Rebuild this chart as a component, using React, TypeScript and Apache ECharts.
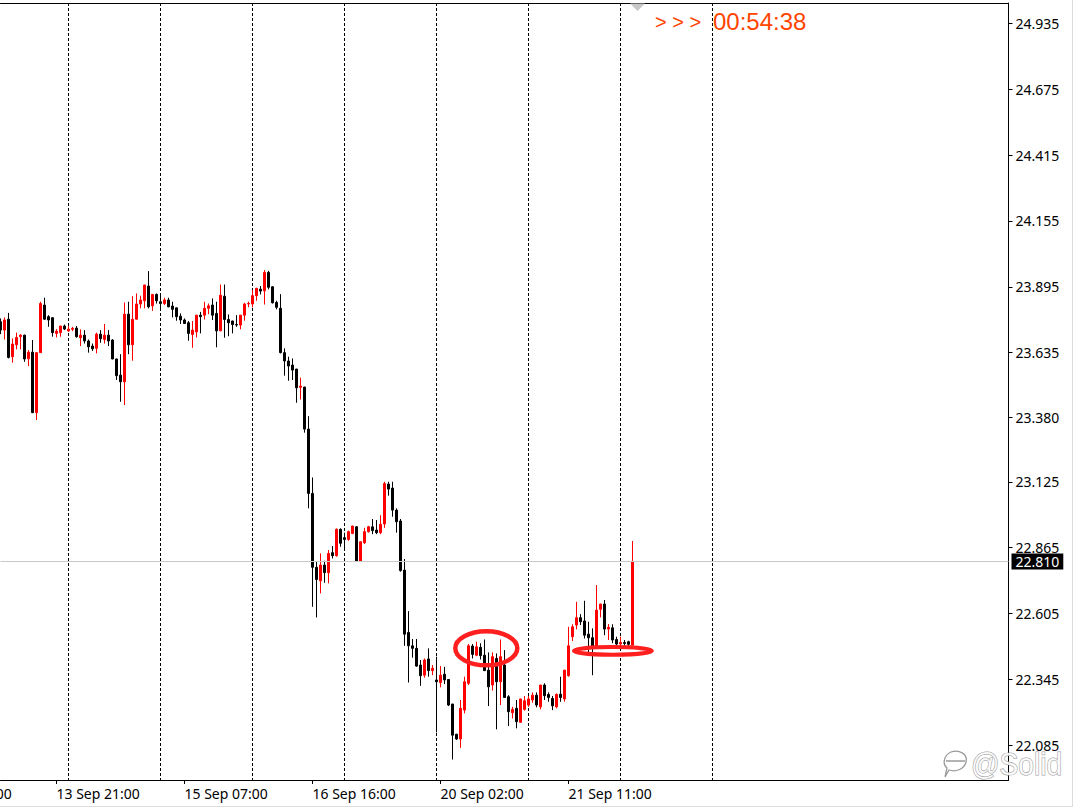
import React, { useEffect, useRef } from 'react';
import * as echarts from 'echarts';

// H1 candles: [open, high, low, close]
const ohlc: [number, number, number, number][] = [
  [23.757, 23.770, 23.708, 23.724], [23.724, 23.774, 23.687, 23.764], [23.767, 23.792, 23.612, 23.616],
  [23.619, 23.691, 23.595, 23.669], [23.666, 23.714, 23.648, 23.695], [23.698, 23.708, 23.648, 23.704],
  [23.704, 23.706, 23.599, 23.610], [23.611, 23.645, 23.582, 23.637], [23.637, 23.685, 23.396, 23.398],
  [23.398, 23.636, 23.369, 23.635], [23.635, 23.836, 23.634, 23.829], [23.823, 23.852, 23.764, 23.767],
  [23.777, 23.783, 23.737, 23.764], [23.773, 23.774, 23.698, 23.714], [23.711, 23.728, 23.695, 23.720],
  [23.714, 23.741, 23.698, 23.740], [23.740, 23.746, 23.724, 23.728], [23.721, 23.740, 23.717, 23.728],
  [23.727, 23.737, 23.720, 23.731], [23.732, 23.740, 23.694, 23.698], [23.694, 23.727, 23.661, 23.704],
  [23.704, 23.724, 23.671, 23.681], [23.681, 23.687, 23.635, 23.658], [23.661, 23.671, 23.642, 23.650],
  [23.652, 23.714, 23.632, 23.708], [23.708, 23.724, 23.674, 23.690], [23.687, 23.748, 23.671, 23.704],
  [23.704, 23.724, 23.661, 23.681], [23.685, 23.688, 23.609, 23.610], [23.610, 23.611, 23.527, 23.544],
  [23.546, 23.629, 23.441, 23.520], [23.520, 23.833, 23.428, 23.787], [23.787, 23.836, 23.629, 23.666],
  [23.666, 23.858, 23.603, 23.767], [23.767, 23.869, 23.766, 23.827], [23.827, 23.860, 23.810, 23.843],
  [23.840, 23.903, 23.810, 23.902], [23.898, 23.957, 23.810, 23.816], [23.820, 23.866, 23.800, 23.865],
  [23.865, 23.869, 23.829, 23.840], [23.836, 23.862, 23.800, 23.829], [23.829, 23.852, 23.823, 23.843],
  [23.843, 23.852, 23.814, 23.816], [23.819, 23.836, 23.774, 23.806], [23.812, 23.813, 23.761, 23.777],
  [23.779, 23.790, 23.748, 23.764], [23.764, 23.770, 23.748, 23.750], [23.753, 23.760, 23.682, 23.711],
  [23.707, 23.760, 23.654, 23.724], [23.717, 23.784, 23.695, 23.783], [23.783, 23.796, 23.711, 23.777],
  [23.783, 23.836, 23.766, 23.810], [23.810, 23.829, 23.787, 23.820], [23.823, 23.849, 23.764, 23.783],
  [23.790, 23.836, 23.656, 23.721], [23.721, 23.904, 23.720, 23.862], [23.858, 23.904, 23.694, 23.766],
  [23.766, 23.786, 23.700, 23.753], [23.760, 23.761, 23.711, 23.746], [23.746, 23.783, 23.737, 23.744],
  [23.744, 23.784, 23.727, 23.783], [23.783, 23.832, 23.761, 23.827], [23.827, 23.836, 23.814, 23.829],
  [23.827, 23.882, 23.814, 23.860], [23.860, 23.891, 23.840, 23.889], [23.886, 23.898, 23.865, 23.878],
  [23.879, 23.961, 23.825, 23.952], [23.952, 23.958, 23.885, 23.893], [23.895, 23.898, 23.829, 23.832],
  [23.833, 23.840, 23.806, 23.814], [23.810, 23.866, 23.632, 23.635], [23.635, 23.652, 23.544, 23.602],
  [23.602, 23.619, 23.524, 23.582], [23.586, 23.612, 23.527, 23.566], [23.570, 23.571, 23.437, 23.496],
  [23.498, 23.536, 23.450, 23.503], [23.499, 23.500, 23.319, 23.333], [23.333, 23.384, 23.020, 23.079],
  [23.079, 23.142, 22.631, 22.787], [22.787, 22.809, 22.589, 22.739], [22.734, 22.842, 22.684, 22.796],
  [22.796, 22.813, 22.726, 22.766], [22.766, 22.855, 22.724, 22.842], [22.845, 22.871, 22.822, 22.833],
  [22.833, 22.941, 22.829, 22.937], [22.937, 22.941, 22.868, 22.882], [22.904, 22.924, 22.855, 22.897],
  [22.897, 22.932, 22.892, 22.928], [22.921, 22.951, 22.918, 22.950], [22.947, 22.950, 22.809, 22.812],
  [22.812, 22.889, 22.811, 22.888], [22.884, 22.943, 22.879, 22.928], [22.928, 22.951, 22.924, 22.947],
  [22.947, 22.978, 22.918, 22.932], [22.934, 22.974, 22.918, 22.924], [22.924, 22.993, 22.918, 22.957],
  [22.958, 23.125, 22.943, 23.118], [23.116, 23.125, 23.070, 23.096], [23.100, 23.125, 22.987, 23.013],
  [23.013, 23.020, 22.924, 22.967], [22.970, 22.978, 22.770, 22.774], [22.776, 22.820, 22.477, 22.523],
  [22.530, 22.614, 22.332, 22.477], [22.477, 22.504, 22.430, 22.467], [22.467, 22.504, 22.394, 22.397],
  [22.401, 22.421, 22.319, 22.359], [22.361, 22.427, 22.351, 22.421], [22.425, 22.467, 22.355, 22.379],
  [22.379, 22.401, 22.361, 22.388], [22.342, 22.434, 22.135, 22.335], [22.332, 22.397, 22.313, 22.361],
  [22.365, 22.394, 22.326, 22.342], [22.344, 22.345, 22.239, 22.243], [22.247, 22.248, 22.028, 22.124],
  [22.128, 22.129, 22.105, 22.109], [22.109, 22.263, 22.074, 22.230], [22.223, 22.355, 22.210, 22.335],
  [22.329, 22.484, 22.322, 22.477], [22.476, 22.484, 22.427, 22.443], [22.440, 22.493, 22.436, 22.473],
  [22.471, 22.487, 22.423, 22.438], [22.440, 22.502, 22.378, 22.379], [22.381, 22.451, 22.239, 22.315],
  [22.322, 22.451, 22.300, 22.434], [22.427, 22.447, 22.147, 22.335], [22.335, 22.502, 22.243, 22.434],
  [22.401, 22.460, 22.272, 22.273], [22.276, 22.282, 22.160, 22.217], [22.213, 22.236, 22.190, 22.226],
  [22.230, 22.263, 22.151, 22.177], [22.175, 22.268, 22.173, 22.267], [22.226, 22.279, 22.221, 22.260],
  [22.243, 22.279, 22.236, 22.267], [22.263, 22.293, 22.252, 22.282], [22.282, 22.293, 22.234, 22.243],
  [22.236, 22.323, 22.226, 22.322], [22.322, 22.329, 22.263, 22.280], [22.285, 22.293, 22.256, 22.273],
  [22.269, 22.279, 22.223, 22.240], [22.236, 22.289, 22.230, 22.285], [22.286, 22.355, 22.256, 22.273],
  [22.267, 22.382, 22.256, 22.381], [22.359, 22.552, 22.355, 22.477], [22.513, 22.562, 22.496, 22.552],
  [22.559, 22.651, 22.542, 22.588], [22.588, 22.602, 22.559, 22.572], [22.575, 22.655, 22.506, 22.519],
  [22.523, 22.572, 22.450, 22.509], [22.509, 22.546, 22.361, 22.473], [22.473, 22.717, 22.467, 22.618],
  [22.621, 22.643, 22.589, 22.642], [22.642, 22.658, 22.519, 22.543], [22.543, 22.563, 22.500, 22.550],
  [22.548, 22.562, 22.487, 22.500], [22.502, 22.513, 22.477, 22.484], [22.484, 22.513, 22.473, 22.490],
  [22.490, 22.500, 22.477, 22.486], [22.493, 22.497, 22.473, 22.483], [22.480, 22.891, 22.477, 22.810],
];

const TOTAL_SLOTS = 253; // bars + empty chart shift space
const priceMin = 21.947;
const priceMax = 25.016;
const priceTicks = [22.085, 22.345, 22.605, 22.865, 23.125, 23.38, 23.635, 23.895, 24.155, 24.415, 24.675, 24.935];
const timeLabelBars = [14, 46, 78, 110, 142];
const timeLabelTexts = ['13 Sep 21:00', '15 Sep 07:00', '16 Sep 16:00', '20 Sep 02:00', '21 Sep 11:00'];
const hiddenLabelText = '10 Sep 12:00';
const gridBars = [17, 40, 63, 86, 109, 132, 155, 178];
const lastPrice = 22.81;
const countdownText = '00:54:38';
const watermarkText = '@Solid';
const circledZone = { bar: 121.45, price: 22.467 };
const supportZone = { bar: 153.1, price: 22.457 };

const FONT = "'Noto Sans', 'DejaVu Sans', sans-serif";

export default function App() {
  const ref = useRef<HTMLDivElement>(null);
  useEffect(() => {
    if (!ref.current) return;
    try {
      echarts.graphic.registerShape(
        'logo',
        echarts.graphic.extendPath(
          'M9 2 C17 -1 26 4 24 12 C22 20 13 22 7 20 L3 27 L5 18 C0 14 2 5 9 2 Z M4 11 L23 11',
          {}
        ) as any
      );
    } catch (e) {}
    const chart = echarts.init(ref.current, null, { renderer: 'svg' });
    const categories = Array.from({ length: TOTAL_SLOTS }, (_, i) => String(i));
    const labelMap: Record<string, string> = {};
    timeLabelBars.forEach((b, k) => (labelMap[String(b)] = timeLabelTexts[k]));
    const labelSet = new Set(timeLabelBars);
    const gridSet = new Set(gridBars);
    const candleData = ohlc.map(([o, h, l, c]) => [o, c, l, h]);

    chart.setOption({
      animation: false,
      backgroundColor: '#fff',
      grid: { left: 0.5, top: 3, width: 1008, height: 777 },
      xAxis: [
        {
          type: 'category',
          data: categories,
          boundaryGap: false,
          position: 'bottom',
          axisLine: { show: true, lineStyle: { color: '#000', width: 1 } },
          axisTick: {
            show: true,
            length: 4,
            interval: (i: number) => labelSet.has(i),
            lineStyle: { color: '#000', width: 1 },
          },
          axisLabel: {
            interval: (i: number) => labelSet.has(i),
            formatter: (v: string) => labelMap[v] ?? '',
            align: 'left',
            color: '#000',
            fontFamily: FONT,
            fontSize: 14,
            margin: 6,
          },
          splitLine: {
            show: true,
            interval: (i: number) => gridSet.has(i),
            lineStyle: { color: '#000', type: [3, 2], width: 1 },
          },
        },
        {
          type: 'category',
          data: categories,
          boundaryGap: false,
          position: 'top',
          axisLine: { show: true, lineStyle: { color: '#000', width: 1 } },
          axisTick: { show: false },
          axisLabel: { show: false },
          splitLine: { show: false },
        },
      ],
      yAxis: [
        {
          type: 'value',
          position: 'right',
          min: priceMin,
          max: priceMax,
          axisLine: { show: true, lineStyle: { color: '#000', width: 1 } },
          axisTick: { show: true, length: 4, customValues: priceTicks, lineStyle: { color: '#000' } },
          axisLabel: {
            customValues: priceTicks,
            formatter: (v: number) => v.toFixed(3),
            color: '#000',
            fontFamily: FONT,
            fontSize: 14,
            margin: 7,
          },
          splitLine: { show: false },
        },
        {
          type: 'value',
          position: 'right',
          min: priceMin,
          max: priceMax,
          axisLine: { show: false },
          axisTick: { show: false },
          axisLabel: {
            customValues: [lastPrice],
            formatter: (v: number) => v.toFixed(3),
            color: '#fff',
            backgroundColor: '#000',
            padding: [1, 4, 1, 4],
            fontFamily: FONT,
            fontSize: 14,
            margin: 3,
          },
          splitLine: { show: false },
        },
      ],
      series: [
        {
          type: 'candlestick',
          xAxisIndex: 0,
          yAxisIndex: 0,
          data: candleData,
          barWidth: 2,
          clip: false,
          itemStyle: {
            color: '#ff0000',
            color0: '#000000',
            borderColor: '#ff0000',
            borderColor0: '#000000',
            borderWidth: 1,
          },
          markLine: {
            silent: true,
            symbol: ['none', 'none'],
            label: { show: false },
            lineStyle: { color: '#c8c8c8', type: 'solid', width: 1 },
            data: [{ yAxis: lastPrice }],
          },
        },
      ],
    });

    const px = (bar: number, price: number) => {
      const b0 = Math.floor(bar);
      const p0 = chart.convertToPixel({ xAxisIndex: 0, yAxisIndex: 0 }, [b0, price]) as number[];
      const p1 = chart.convertToPixel({ xAxisIndex: 0, yAxisIndex: 0 }, [b0 + 1, price]) as number[];
      return [p0[0] + (p1[0] - p0[0]) * (bar - b0), p0[1]];
    };
    const e1 = px(circledZone.bar, circledZone.price);
    const e2 = px(supportZone.bar, supportZone.price);
    const firstLabelX = px(timeLabelBars[0], lastPrice)[0];
    const step = px(1, lastPrice)[0] - px(0, lastPrice)[0];
    const hiddenX = firstLabelX - step * 32;

    chart.setOption({
      graphic: [
        {
          type: 'ellipse',
          shape: { cx: e1[0], cy: e1[1], rx: 31, ry: 17 },
          style: { fill: 'none', stroke: '#ff1f1f', lineWidth: 4.5 },
          z: 100,
        },
        {
          type: 'ellipse',
          shape: { cx: e2[0], cy: e2[1], rx: 39, ry: 3.8 },
          style: { fill: 'none', stroke: '#ff1f1f', lineWidth: 4 },
          z: 100,
        },
        {
          type: 'polygon',
          shape: { points: [[630, 3.5], [645, 3.5], [637.5, 11]] },
          style: { fill: '#c8c8c8' },
          z: 100,
        },
        {
          type: 'text',
          x: 655,
          y: 22,
          style: {
            text: '> > >',
            font: "20px 'Liberation Sans', Arial, sans-serif",
            fill: '#ff4500',
            verticalAlign: 'middle',
          },
          z: 100,
        },
        {
          type: 'text',
          x: 713,
          y: 21,
          style: {
            text: countdownText,
            font: "24px 'Liberation Sans', Arial, sans-serif",
            fill: '#ff4500',
            verticalAlign: 'middle',
          },
          z: 100,
        },
        {
          type: 'text',
          x: hiddenX,
          y: 786,
          style: {
            text: hiddenLabelText,
            font: "14px 'Noto Sans', 'DejaVu Sans', sans-serif",
            fill: '#000',
            verticalAlign: 'top',
          },
          z: 100,
        },
        {
          type: 'logo',
          x: 942,
          y: 750,
          style: { fill: 'none', stroke: '#9a9a9a', lineWidth: 1.3 },
          z: 100,
        },
        {
          type: 'text',
          x: 971,
          y: 764,
          scaleX: 0.88,
          style: {
            text: watermarkText,
            font: "32px 'Liberation Sans', Arial, sans-serif",
            fill: 'rgba(255,255,255,0.85)',
            stroke: '#9a9a9a',
            lineWidth: 1.1,
            verticalAlign: 'middle',
          },
          z: 100,
        },
        {
          type: 'line',
          shape: { x1: 1072.5, y1: 0, x2: 1072.5, y2: 807 },
          style: { stroke: '#dcdcdc', lineWidth: 1 },
        },
        {
          type: 'line',
          shape: { x1: 0, y1: 806.5, x2: 1073, y2: 806.5 },
          style: { stroke: '#dcdcdc', lineWidth: 1 },
        },
      ],
    });

    return () => chart.dispose();
  }, []);

  return (
    <div
      ref={ref}
      style={{ position: 'absolute', left: 0, top: 0, width: 1075, height: 809, background: '#fff' }}
    />
  );
}
